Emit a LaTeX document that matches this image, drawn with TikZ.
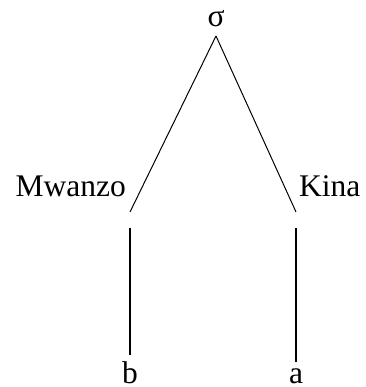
\documentclass[tikz,border=0pt]{standalone}
\usepackage{fontspec}
\setmainfont{Liberation Serif}
\begin{document}
\begin{tikzpicture}[x=1pt,y=1pt,
  lbl/.style={inner sep=0pt,font=\fontsize{31.5}{36}\selectfont},
  edge/.style={line width=1pt},
  stem/.style={line width=1.6pt,shorten >=7pt}]
\useasboundingbox (0,0) rectangle (365,387);
\node[lbl,anchor=base] (sig) at (216,360) {σ};
\node[lbl,anchor=base east] (mw) at (126,190) {Mwanzo};
\node[lbl,anchor=base west] (ki) at (299,190) {Kina};
\node[lbl,anchor=base] (b) at (130,3) {b};
\node[lbl,anchor=base] (a) at (296,3) {a};
\coordinate (top) at (216,351);
\coordinate (lend) at (130,175);
\coordinate (rend) at (296,175);
\coordinate (ltop) at (130,159);
\coordinate (rtop) at (296,159);
\draw[edge] (top) -- (lend);
\draw[edge] (top) -- (rend);
\draw[stem] (ltop) -- (b.north);
\draw[stem] (rtop) -- (a.north);
\end{tikzpicture}
\end{document}
